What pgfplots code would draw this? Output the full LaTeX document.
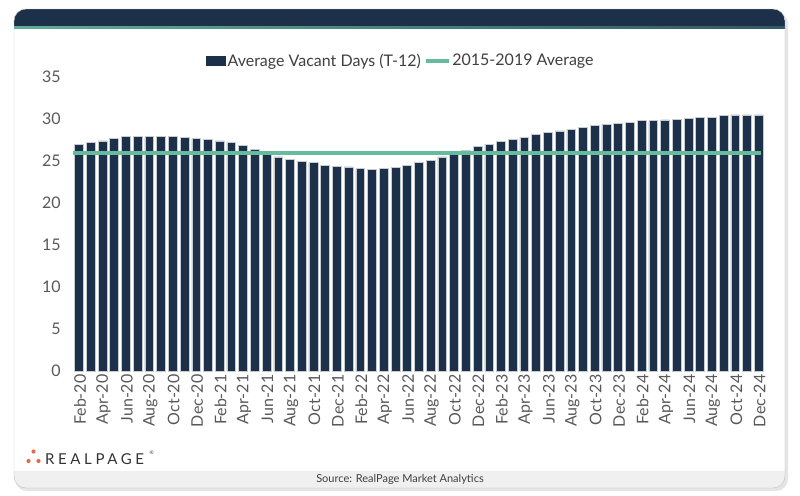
\documentclass[border=0pt]{standalone}
\usepackage{fontspec}
\setmainfont{Lato}
\usepackage{pgfplots}
\pgfplotsset{compat=1.18}
\usetikzlibrary{shadings}

\definecolor{navy}{HTML}{1D3049}
\definecolor{avggreen}{HTML}{66BB9F}
\definecolor{tickgray}{HTML}{595959}
\definecolor{txtgray}{HTML}{404040}
\definecolor{rporange}{HTML}{E8694A}

% vacant days, Feb-20 .. Dec-24 (index 0..58)
\pgfplotstableread{
idx days
0 27.0
1 27.2
2 27.4
3 27.7
4 27.9
5 27.9
6 27.9
7 27.9
8 27.9
9 27.8
10 27.7
11 27.6
12 27.4
13 27.2
14 26.9
15 26.4
16 25.9
17 25.5
18 25.2
19 25.0
20 24.8
21 24.5
22 24.4
23 24.3
24 24.1
25 24.0
26 24.1
27 24.2
28 24.5
29 24.8
30 25.1
31 25.5
32 25.8
33 26.3
34 26.7
35 27.0
36 27.3
37 27.6
38 27.8
39 28.2
40 28.4
41 28.6
42 28.8
43 29.0
44 29.2
45 29.4
46 29.5
47 29.6
48 29.8
49 29.8
50 29.9
51 30.0
52 30.1
53 30.2
54 30.2
55 30.4
56 30.5
57 30.5
58 30.5
}\vacant

\begin{document}
\begin{tikzpicture}
\useasboundingbox (0bp,0bp) rectangle (800bp,-496bp);
% card
\fill[black!10, rounded corners=12bp] (15bp,-12bp) rectangle (788bp,-491bp);
\begin{scope}
  \clip[rounded corners=12bp] (14bp,-9bp) rectangle (785bp,-488bp);
  \fill[white] (14bp,-9bp) rectangle (785bp,-488bp);
  \fill[navy] (14bp,-9bp) rectangle (785bp,-26bp);
  \shade[left color=avggreen!90!navy, right color=navy!70!avggreen] (14bp,-26bp) rectangle (785bp,-28.5bp);
  \fill[black!6] (14bp,-471bp) rectangle (785bp,-488bp);
\end{scope}
\draw[black!25, rounded corners=12bp] (14bp,-9bp) rectangle (785bp,-488bp);

% footer
\node[font=\fontsize{11bp}{13bp}\selectfont, text=txtgray] at (400bp,-479.5bp) {Source: RealPage Market Analytics};
\fill[rporange] (33.5bp,-451.5bp) circle (2.1bp);
\fill[rporange] (28.5bp,-461bp) circle (2.1bp);
\fill[rporange] (38.5bp,-461bp) circle (2.1bp);
\node[anchor=west, inner sep=0pt, text=txtgray!80!black,
  font=\fontsize{15bp}{17bp}\selectfont\addfontfeatures{LetterSpace=24}] at (45bp,-459bp) {REALPAGE};
\node[anchor=west, inner sep=0pt, text=txtgray, font=\fontsize{5bp}{6bp}\selectfont] at (149.5bp,-453bp) {\textregistered};

\begin{axis}[
  at={(73.1bp,-371bp)}, anchor=south west,
  scale only axis, width=691.5bp, height=294bp,
  xmin=-0.5, xmax=58.5, ymin=0, ymax=35,
  ytick={0,5,...,35},
  xtick={0,2,...,58},
  xticklabels={Feb-20,Apr-20,Jun-20,Aug-20,Oct-20,Dec-20,
    Feb-21,Apr-21,Jun-21,Aug-21,Oct-21,Dec-21,
    Feb-22,Apr-22,Jun-22,Aug-22,Oct-22,Dec-22,
    Feb-23,Apr-23,Jun-23,Aug-23,Oct-23,Dec-23,
    Feb-24,Apr-24,Jun-24,Aug-24,Oct-24,Dec-24},
  axis line style={draw=none},
  major tick length=0pt,
  /pgf/number format/assume math mode=true,
  tick label style={text=tickgray, font=\fontsize{16bp}{19bp}\selectfont},
  yticklabel style={xshift=-9bp},
  xticklabel style={rotate=90, anchor=east, xshift=0bp, yshift=-1bp},
  legend style={at={(axis description cs:0.474,1.055)}, anchor=center,
    draw=none, fill=none, legend columns=2,
    font=\fontsize{16bp}{19bp}\selectfont, text=txtgray,
    /tikz/every even column/.append style={column sep=1bp}},
]
\addplot[ybar, bar width=8.8bp, fill=navy, draw=navy!25, line width=0.5bp,
  legend image code/.code={\fill[navy] (0bp,-4.5bp) rectangle (19bp,4.5bp);}]
  table[x=idx, y=days] {\vacant};
\addlegendentry{Average Vacant Days (T-12)}
\addplot[avggreen, line width=3.8bp, mark=none,
  legend image code/.code={\draw[avggreen, line width=3.5bp] (0bp,0bp) -- (23bp,0bp);}]
  coordinates {(-0.55,26) (58.15,26)};
\addlegendentry{2015-2019 Average}
\end{axis}
\end{tikzpicture}
\end{document}
